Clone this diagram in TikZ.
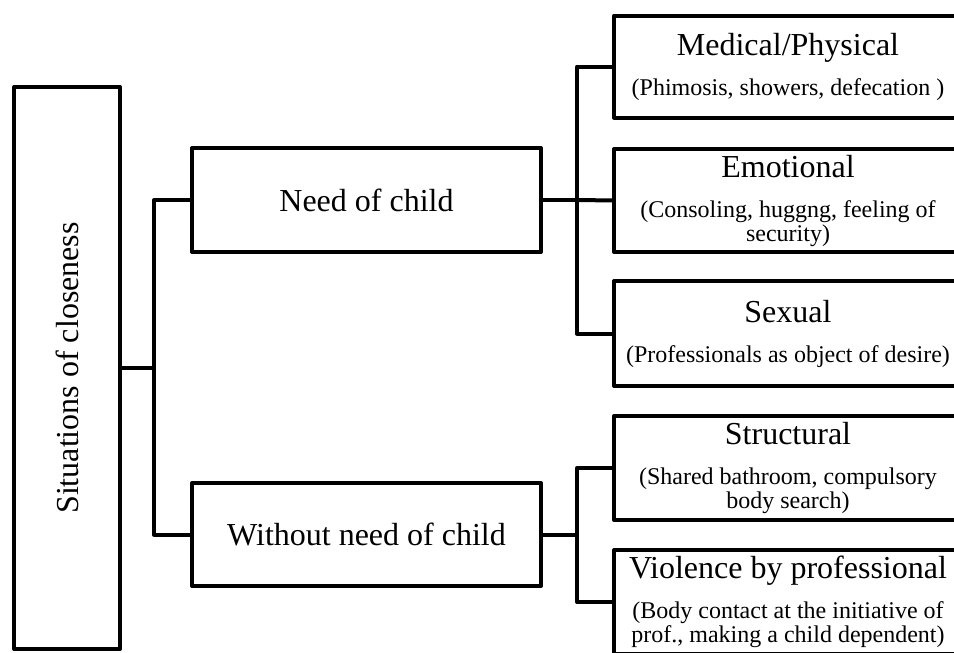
\documentclass[tikz,border=0pt]{standalone}
\usepackage{fontspec}
\setmainfont{Liberation Serif}
\newfontfamily\tnr{Liberation Serif}
\usepackage{graphicx}
\newcommand{\hdr}[2]{{\fontsize{32}{32}\selectfont #1\par}\vspace{16pt}{\fontsize{24}{24}\selectfont #2\par}}
\begin{document}
\begin{tikzpicture}[x=1pt,y=-1pt,
  box/.style={draw, line width=4pt, line join=round, inner sep=0pt, outer sep=0pt, align=flush center, font=\tnr\fontsize{32}{38}\selectfont},
  rbox/.style={box, minimum width=348pt, text width=340pt},
  conn/.style={line width=4pt, line join=round}]
\useasboundingbox (0,0) rectangle (954,653);
\clip (0,0) rectangle (954,653);
% root
\node[box, minimum width=106pt, minimum height=562pt] (root) at (67,368) {\rotatebox{90}{Situations of closeness}};
% level 1
\node[box, minimum width=349pt, minimum height=104pt] (need) at (366.5,200) {Need of child};
\node[box, minimum width=349pt, minimum height=103pt] (without) at (366.5,534.5) {Without need of child};
% level 2
\node[rbox, minimum height=102pt] (med) at (788,66.5) {\hdr{Medical/Physical}{(Phimosis, showers, defecation )}};
\node[rbox, minimum height=103pt] (emo) at (788,200.5) {\hdr{Emotional}{(Consoling, huggng, feeling of\\ security)}};
\node[rbox, minimum height=105pt] (sex) at (788,333.5) {\hdr{Sexual}{(Professionals as object of desire)}};
\node[rbox, minimum height=104pt] (str) at (788,468) {\hdr{Structural}{(Shared bathroom, compulsory\\ body search)}};
\node[rbox, minimum height=104pt] (vio) at (788,602) {\hdr{Violence by professional}{(Body contact at the initiative of\\ prof., making a child dependent)}};
% junctions
\coordinate (j1) at (154,368);
\coordinate (j2) at (577,200);
\coordinate (j3) at (577,534.5);
% connectors
\draw[conn] (root.east) -- (j1);
\draw[conn] (need.west) -| (j1) |- (without.west);
\draw[conn] (need.east) -- (j2);
\draw[conn] (med.west) -| (j2) |- (sex.west);
\draw[conn] (j2) -- (emo.west);
\draw[conn] (without.east) -- (j3);
\draw[conn] (str.west) -| (j3) |- (vio.west);
\end{tikzpicture}
\end{document}
